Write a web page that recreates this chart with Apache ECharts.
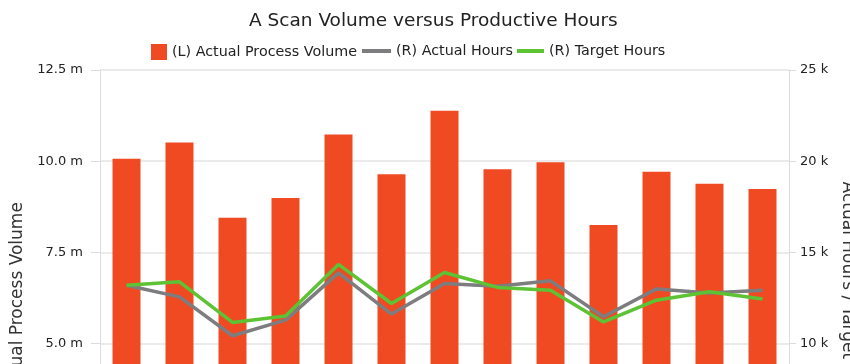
<!DOCTYPE html>
<html>
<head>
<meta charset="utf-8">
<script src="https://cdn.jsdelivr.net/npm/echarts@6/dist/echarts.min.js"></script>
<style>
html,body{margin:0;padding:0;background:#fff;width:850px;height:364px;overflow:hidden;}
#chart{width:850px;height:526px;}
</style>
</head>
<body>
<div id="chart"></div>
<script>
const categories = ['1','2','3','4','5','6','7','8','9','10','11','12','13'];
const processVolume = [10070000, 10510000, 8450000, 8990000, 10730000, 9640000, 11380000, 9780000, 9970000, 8250000, 9710000, 9380000, 9240000];
const actualHours = [13200, 12560, 10430, 11290, 13880, 11620, 13300, 13150, 13440, 11470, 13000, 12780, 12930];
const targetHours = [13200, 13390, 11160, 11510, 14340, 12200, 13900, 13080, 12930, 11190, 12380, 12840, 12440];

const FONT = 'DejaVu Sans';
const chart = echarts.init(document.getElementById('chart'));
chart.setOption({
  animation: false,
  backgroundColor: '#ffffff',
  title: {
    text: 'A Scan Volume versus Productive Hours',
    left: 249, top: 12, padding: 0,
    textStyle: {fontFamily: FONT, fontSize: 18.5, fontWeight: 'normal', color: '#222'}
  },
  legend: [
    {left: 151, top: 44, padding: 0, itemWidth: 16, itemHeight: 16, icon: 'rect',
     data: ['(L) Actual Process Volume'],
     textStyle: {fontFamily: FONT, fontSize: 14.3, color: '#222'}},
    {left: 362, top: 44, padding: 0, itemWidth: 29, itemHeight: 4, icon: 'rect',
     data: ['(R) Actual Hours'],
     textStyle: {fontFamily: FONT, fontSize: 14.3, color: '#222'}},
    {left: 517, top: 44, padding: 0, itemWidth: 27, itemHeight: 4, icon: 'rect',
     data: ['(R) Target Hours'],
     textStyle: {fontFamily: FONT, fontSize: 14.3, color: '#222'}}
  ],
  grid: {left: 100, right: 61, top: 70, bottom: 0, containLabel: false, outerBoundsMode: 'none'},
  xAxis: {
    type: 'category', data: categories, boundaryGap: true,
    axisLine: {show: false}, axisTick: {show: false}, axisLabel: {show: false}
  },
  yAxis: [
    {
      type: 'value', position: 'left', min: 0, max: 12500000, interval: 2500000,
      name: 'Actual Process Volume', nameLocation: 'middle', nameGap: 66,
      nameTextStyle: {fontFamily: FONT, fontSize: 17, color: '#333'},
      axisLine: {show: true, lineStyle: {color: '#dcdcdc', width: 1}},
      axisTick: {show: true, length: 9, lineStyle: {color: '#dcdcdc'}},
      axisLabel: {margin: 17, fontFamily: FONT, fontSize: 13, color: '#222',
        formatter: v => (v / 1e6).toFixed(1) + ' m'},
      splitLine: {show: true, lineStyle: {color: '#e4e4e4', width: 1.5}}
    },
    {
      type: 'value', position: 'right', min: 0, max: 25000, interval: 5000,
      name: 'Actual Hours / Target Hours', nameLocation: 'middle', nameGap: 43, nameRotate: -90,
      nameTextStyle: {fontFamily: FONT, fontSize: 17, color: '#333'},
      axisLine: {show: true, lineStyle: {color: '#dcdcdc', width: 1}},
      axisTick: {show: true, length: 7, lineStyle: {color: '#dcdcdc'}},
      axisLabel: {margin: 11, fontFamily: FONT, fontSize: 13, color: '#222',
        formatter: v => (v / 1000) + ' k'},
      splitLine: {show: false}
    }
  ],
  series: [
    {name: '(L) Actual Process Volume', type: 'bar', yAxisIndex: 0, data: processVolume,
     barWidth: 28, itemStyle: {color: '#F04A23'}},
    {name: '(R) Actual Hours', type: 'line', yAxisIndex: 1, data: actualHours,
     showSymbol: false, symbol: 'none', lineStyle: {color: '#7D7D80', width: 3.5}, itemStyle: {color: '#7D7D80'}},
    {name: '(R) Target Hours', type: 'line', yAxisIndex: 1, data: targetHours,
     showSymbol: false, symbol: 'none', lineStyle: {color: '#5DC234', width: 3.5}, itemStyle: {color: '#5DC234'}}
  ]
});
</script>
</body>
</html>
